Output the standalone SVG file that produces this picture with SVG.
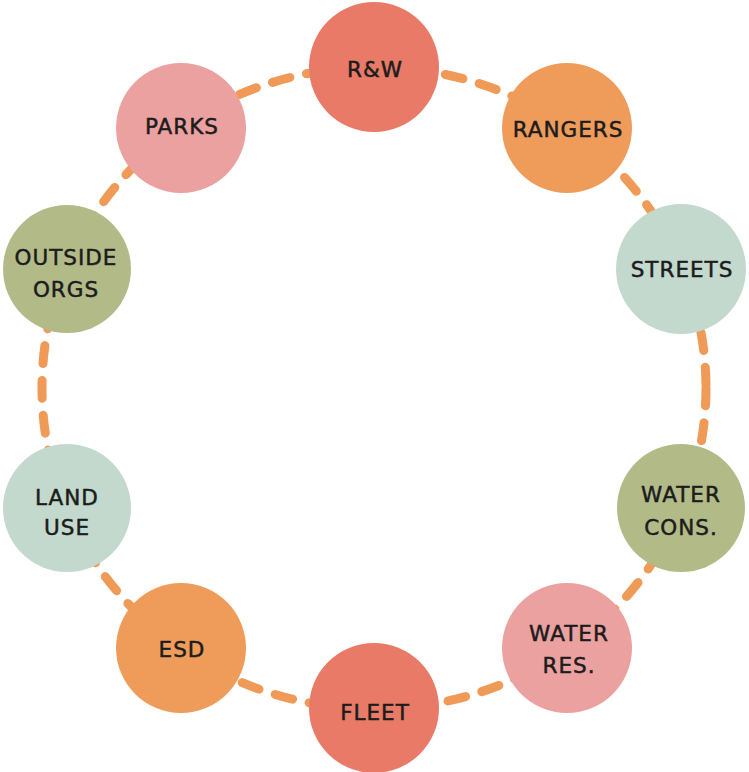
<svg xmlns="http://www.w3.org/2000/svg" width="749" height="772" viewBox="0 0 749 772">
<style>
.ring{fill:none;stroke:#EF9B57;stroke-width:9;stroke-linecap:round;stroke-dasharray:18 17}
.lbl{font-family:"DejaVu Sans","Liberation Sans",sans-serif;font-size:21.5px;letter-spacing:1px;fill:#1c1c1c;stroke:#1c1c1c;stroke-width:0.5;text-anchor:middle}
.red{fill:#E87A67}.orange{fill:#EF9C5B}.mint{fill:#C3D9CE}.olive{fill:#B2BB88}.pink{fill:#EBA1A0}
</style>
<rect width="749" height="772" fill="#ffffff"/>
<g id="connectors">
<ellipse class="ring" cx="374" cy="388" rx="332" ry="321"/>
</g>
<g id="rw"><circle class="red" cx="374" cy="67" r="65"/><text class="lbl" x="375" y="77">R&amp;W</text></g>
<g id="rangers"><circle class="orange" cx="567" cy="128" r="65"/><text class="lbl" x="568" y="137">RANGERS</text></g>
<g id="streets"><circle class="mint" cx="681" cy="269" r="65"/><text class="lbl" x="682" y="277">STREETS</text></g>
<g id="water-cons"><circle class="olive" cx="681" cy="508" r="64"/><text class="lbl" x="681" y="502">WATER</text><text class="lbl" x="681" y="535">CONS.</text></g>
<g id="water-res"><circle class="pink" cx="567" cy="648" r="65"/><text class="lbl" x="569" y="641">WATER</text><text class="lbl" x="569" y="673">RES.</text></g>
<g id="fleet"><circle class="red" cx="374" cy="708" r="65"/><text class="lbl" x="375" y="720">FLEET</text></g>
<g id="esd"><circle class="orange" cx="181" cy="648" r="65"/><text class="lbl" x="182" y="657">ESD</text></g>
<g id="land-use"><circle class="mint" cx="67" cy="508" r="64"/><text class="lbl" x="67" y="505">LAND</text><text class="lbl" x="67" y="535">USE</text></g>
<g id="outside-orgs"><circle class="olive" cx="67" cy="269" r="64"/><text class="lbl" x="66" y="265">OUTSIDE</text><text class="lbl" x="66" y="297">ORGS</text></g>
<g id="parks"><circle class="pink" cx="181" cy="128" r="65"/><text class="lbl" x="182" y="134">PARKS</text></g>
</svg>
